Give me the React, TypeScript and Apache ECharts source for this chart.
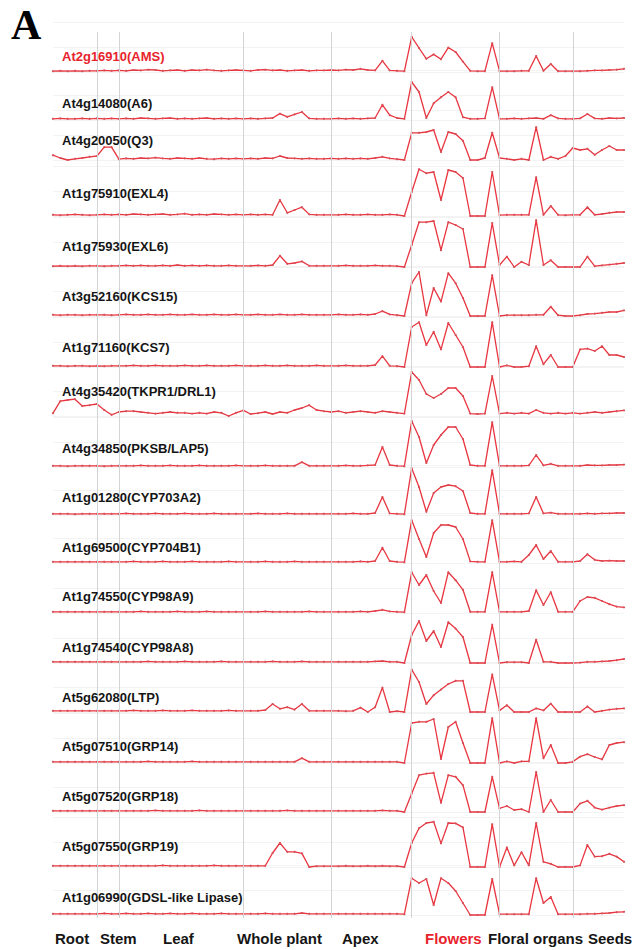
import React, { useEffect, useRef } from "react";
import * as echarts from "echarts";

// ---------- data ----------
const genes = [
  "At2g16910(AMS)",
  "At4g14080(A6)",
  "At4g20050(Q3)",
  "At1g75910(EXL4)",
  "At1g75930(EXL6)",
  "At3g52160(KCS15)",
  "At1g71160(KCS7)",
  "At4g35420(TKPR1/DRL1)",
  "At4g34850(PKSB/LAP5)",
  "At1g01280(CYP703A2)",
  "At1g69500(CYP704B1)",
  "At1g74550(CYP98A9)",
  "At1g74540(CYP98A8)",
  "At5g62080(LTP)",
  "At5g07510(GRP14)",
  "At5g07520(GRP18)",
  "At5g07550(GRP19)",
  "At1g06990(GDSL-like Lipase)",
];

const tissues = ["Root", "Stem", "Leaf", "Whole plant", "Apex", "Flowers", "Floral organs", "Seeds"];
const tissueSizes = [6, 3, 17, 12, 11, 12, 10, 8];

// relative expression per sample (79 samples, tissue order above)
const AMS = [2,3,2,3,2,3, 3,4,3, 4,3,5,4,6,5,3,4,5,3,5,4,6,4,3,4,5, 4,3,5,6,4,5,3,4,5,3,4,4, 5,4,6,5,8,5,4,28,4,3,2, 88,60,33,44,32,61,50,26,3,2,2,72, 2,2,2,3,3,40,3,20,2,2, 2,2,3,4,4,5,6,8];
const A6 = [3,4,3,3,4,3, 4,3,4, 3,4,3,5,4,3,4,5,3,4,3,4,5,3,4,3,4, 3,4,3,4,5,16,8,14,20,4,3,3, 3,4,3,4,3,4,5,38,12,5,3, 95,70,5,42,57,70,57,7,3,3,4,82, 3,3,4,3,4,5,3,12,4,3, 3,4,15,4,3,5,4,5];
const Q3 = [12,5,0,3,5,8, 10,32,32, 2,4,3,5,4,6,4,3,5,4,3,5,3,2,4,3,4, 3,4,3,5,4,10,5,4,3,4,3,3, 4,3,4,3,4,3,5,8,4,2,0, 68,68,70,75,20,70,65,48,0,0,5,68, 5,3,0,3,0,82,0,8,3,10, 30,25,28,13,25,35,25,25];
const EXL4 = [3,2,3,4,3,2, 3,4,3, 4,3,5,4,3,4,5,3,4,6,3,4,3,5,4,3,4, 3,4,3,4,3,40,8,15,22,4,3,3, 3,3,4,3,3,4,3,3,4,3,0, 60,117,107,110,40,115,110,95,0,0,0,110, 2,3,3,3,3,97,3,25,3,2, 3,3,22,3,5,8,10,10];
const EXL6 = [2,3,2,3,2,3, 3,2,3, 3,4,3,4,3,3,4,3,5,3,4,3,4,3,3,4,3, 3,3,4,3,5,28,8,10,14,3,3,3, 3,3,4,3,3,3,4,3,3,2,0, 55,112,112,115,42,112,105,95,0,0,0,110, 5,26,0,13,5,117,5,17,0,0, 0,0,26,2,4,6,8,10];
const KCS15 = [3,2,3,3,2,3, 3,3,2, 3,4,3,3,4,3,3,4,3,3,4,3,3,4,3,3,4, 3,3,4,3,3,4,3,3,4,3,3,3, 3,4,3,3,4,3,5,12,4,2,0, 82,110,2,70,36,107,82,45,0,0,0,102, 0,2,2,2,2,3,3,23,2,0, 0,2,5,6,8,10,10,14];
const KCS7 = [3,3,2,3,3,2, 3,2,3, 3,3,4,3,3,4,3,3,3,4,3,3,4,3,3,3,4, 3,3,3,4,3,3,4,3,3,3,4,3, 3,3,4,3,3,3,5,27,3,2,0, 100,112,55,88,44,110,80,50,0,0,0,112, 0,4,0,0,2,52,7,30,0,0, 0,44,46,40,52,30,30,25];
const TKPR1 = [7,37,40,42,25,27, 30,15,3, 10,12,12,10,8,6,8,10,8,8,6,8,6,10,8,0,8, 14,5,7,10,5,10,8,15,20,27,15,12, 10,12,8,10,12,10,8,12,10,8,6, 110,90,55,45,55,70,70,50,6,5,6,100, 6,8,6,8,6,15,8,6,8,6, 8,6,8,10,8,10,12,14];
const PKSB = [3,3,2,3,3,3, 3,2,3, 3,3,3,4,3,3,3,4,3,3,3,4,3,3,3,3,4, 3,3,3,4,3,3,3,3,12,3,3,3, 3,3,4,3,3,4,5,50,5,3,2, 115,75,10,55,80,100,100,70,5,3,3,112, 3,3,3,3,4,30,4,8,3,3, 3,3,5,4,4,5,5,6];
const CYP703A2 = [3,3,3,2,3,3, 3,3,3, 3,4,3,3,3,4,3,3,3,4,3,3,3,4,3,3,3, 3,3,4,3,3,3,4,3,3,3,3,3, 3,3,3,4,3,3,5,45,4,3,2, 117,70,8,55,70,75,72,60,5,3,3,112, 3,3,3,3,4,45,4,6,3,3, 3,3,4,3,4,4,5,5];
const CYP704B1 = [3,3,3,3,3,3, 3,3,3, 3,3,4,3,3,3,4,3,3,3,4,3,3,3,3,4,3, 3,3,3,4,3,3,3,4,3,3,3,3, 3,3,3,3,4,3,5,38,5,3,2, 107,60,15,75,95,95,90,60,4,3,3,107, 3,3,4,3,20,45,10,30,3,3, 3,5,22,8,5,6,5,5];
const CYP98A9 = [3,3,3,3,3,3, 3,3,3, 3,3,3,4,3,3,3,3,4,3,3,3,4,3,3,3,3, 3,3,3,4,3,3,3,3,3,4,3,3, 3,3,3,3,4,3,5,8,4,3,2, 102,70,95,55,25,102,82,58,3,3,3,102, 3,3,3,3,5,57,20,52,3,3, 3,30,40,38,30,22,16,14];
const CYP98A8 = [3,3,3,3,3,3, 3,3,3, 3,3,3,3,4,3,3,3,3,4,3,3,3,3,4,3,3, 3,3,3,3,4,3,3,3,4,3,3,3, 3,3,3,3,3,3,4,5,3,3,0, 70,105,55,80,40,102,86,65,0,0,0,96, 0,2,2,2,0,58,3,3,0,0, 0,1,3,3,4,5,7,10];
const LTP = [3,3,3,3,3,3, 3,3,3, 3,3,4,3,3,3,4,3,3,3,4,3,3,3,3,4,3, 3,3,3,5,20,8,12,6,20,3,3,3, 3,3,2,3,11,0,12,61,0,2,0, 106,75,20,42,56,70,78,78,0,0,0,94, 4,17,0,0,0,9,4,21,0,0, 0,0,14,0,3,6,8,9];
const GRP14 = [3,3,3,3,3,3, 3,3,3, 3,3,3,3,4,3,3,3,3,3,4,3,3,3,3,3,3, 3,3,3,3,3,3,3,3,12,3,3,3, 3,3,3,3,3,3,3,3,3,3,0, 100,103,103,110,10,90,103,50,0,0,0,112, 0,4,0,4,4,112,12,45,0,0, 3,16,22,15,9,45,50,52];
const GRP18 = [3,3,3,3,3,3, 3,3,3, 3,3,3,3,3,4,3,3,3,3,3,4,3,3,3,3,3, 3,3,3,3,3,3,4,3,3,3,3,3, 3,3,3,3,3,3,3,4,3,3,0, 46,92,96,98,23,92,88,67,0,0,0,88, 9,15,5,7,0,100,0,30,0,0, 0,21,28,11,6,11,15,17];
const GRP19 = [3,3,3,3,3,3, 3,3,3, 3,3,3,3,3,3,4,3,3,3,3,3,3,4,3,3,3, 3,3,3,3,35,60,38,38,34,0,2,2, 2,2,3,2,2,3,2,3,2,2,0, 60,97,110,113,59,110,109,99,0,0,0,107, 0,49,4,37,4,110,13,8,0,0, 0,4,55,26,27,33,26,13];
const GDSL = [3,3,3,3,3,3, 3,4,3, 3,4,3,3,4,3,3,4,3,3,4,3,3,3,4,3,3, 3,3,3,4,3,3,3,3,5,3,3,3, 3,3,3,3,3,3,3,3,3,3,2, 92,80,90,25,92,80,60,30,0,0,0,90, 2,2,2,2,2,92,30,45,2,2, 2,2,3,3,4,5,7,8];

const profiles = [AMS, A6, Q3, EXL4, EXL6, KCS15, KCS7, TKPR1, PKSB, CYP703A2, CYP704B1, CYP98A9, CYP98A8, LTP, GRP14, GRP18, GRP19, GDSL];

// ---------- layout ----------
const PLOT_LEFT = 53;
const PLOT_WIDTH = 571;
const ROW_H = 50; // pixel height for value range 0..125
const Y_MAX = 125;
const rowBase = [72, 120, 160, 216, 267, 316, 367, 416, 467, 515, 563, 613, 663, 712, 763, 812, 867, 915];
const labelY = [56, 103, 140, 193, 246, 296, 347, 391, 448, 497, 547, 596, 647, 697, 746, 796, 846, 897];
const tissueLabelX = [55, 100, 163, 237, 342, 425, 488, 588];
const RED = "#e8232c";

function buildOption() {
  const nSamples = AMS.length;
  const maxX = nSamples - 1;
  const grid: any[] = [];
  const xAxis: any[] = [];
  const yAxis: any[] = [];
  const series: any[] = [];

  profiles.forEach((vals, r) => {
    grid.push({ left: PLOT_LEFT, width: PLOT_WIDTH, top: rowBase[r] - ROW_H, height: ROW_H, containLabel: false });
    xAxis.push({ type: "value", gridIndex: r, min: 0, max: maxX, show: false });
    yAxis.push({
      type: "value",
      gridIndex: r,
      min: 0,
      max: Y_MAX,
      interval: 62.5,
      axisLine: { show: false },
      axisTick: { show: false },
      axisLabel: { show: false },
      splitLine: { show: true, lineStyle: { color: "#f3f3f3", width: 1 } },
    });
    series.push({
      type: "line",
      xAxisIndex: r,
      yAxisIndex: r,
      data: vals.map((v, i) => [i, v]),
      symbol: "circle",
      symbolSize: 2.2,
      showSymbol: true,
      clip: false,
      lineStyle: { color: "#e8353f", width: 1.3 },
      itemStyle: { color: "#d8505a" },
      silent: true,
    });
  });

  // full-height grid for tissue separators
  const g = profiles.length;
  grid.push({ left: PLOT_LEFT, width: PLOT_WIDTH, top: 32, height: 886 });
  xAxis.push({ type: "value", gridIndex: g, min: 0, max: maxX, show: false });
  yAxis.push({ type: "value", gridIndex: g, min: 0, max: 1, show: false });
  const bounds: number[] = [];
  let acc = 0;
  tissueSizes.slice(0, -1).forEach((s) => {
    acc += s;
    bounds.push(acc);
  });
  series.push({
    type: "line",
    xAxisIndex: g,
    yAxisIndex: g,
    data: [[0, -5]],
    showSymbol: false,
    lineStyle: { opacity: 0 },
    silent: true,
    markLine: {
      silent: true,
      symbol: ["none", "none"],
      label: { show: false },
      lineStyle: { color: "#d4d4d4", width: 1, type: "solid" },
      data: bounds.map((b) => ({ xAxis: b })),
    },
    z: 1,
  });

  const graphic: any[] = [];
  graphic.push({
    type: "text",
    x: 11,
    y: 25,
    style: {
      text: "A",
      font: 'bold 42px "Liberation Serif", "Times New Roman", serif',
      fill: "#000",
      verticalAlign: "middle",
    },
  });
  genes.forEach((name, r) => {
    graphic.push({
      type: "text",
      x: 62,
      y: labelY[r],
      style: {
        text: name,
        font: 'bold 13px "Liberation Sans", Arial, sans-serif',
        fill: r === 0 ? RED : "#151515",
        verticalAlign: "middle",
      },
      z: 10,
    });
  });
  tissues.forEach((t, k) => {
    graphic.push({
      type: "text",
      x: tissueLabelX[k],
      y: 938,
      style: {
        text: t,
        font: 'bold 15px "Liberation Sans", Arial, sans-serif',
        fill: t === "Flowers" ? RED : "#151515",
        verticalAlign: "middle",
      },
    });
  });

  return {
    animation: false,
    backgroundColor: "#ffffff",
    grid,
    xAxis,
    yAxis,
    series,
    graphic,
  };
}

export default function App() {
  const ref = useRef<HTMLDivElement>(null);
  useEffect(() => {
    document.body.style.margin = "0";
    const chart = echarts.init(ref.current as HTMLDivElement, null, { renderer: "svg" });
    chart.setOption(buildOption() as any);
    return () => chart.dispose();
  }, []);
  return <div ref={ref} style={{ width: 635, height: 950 }} />;
}
